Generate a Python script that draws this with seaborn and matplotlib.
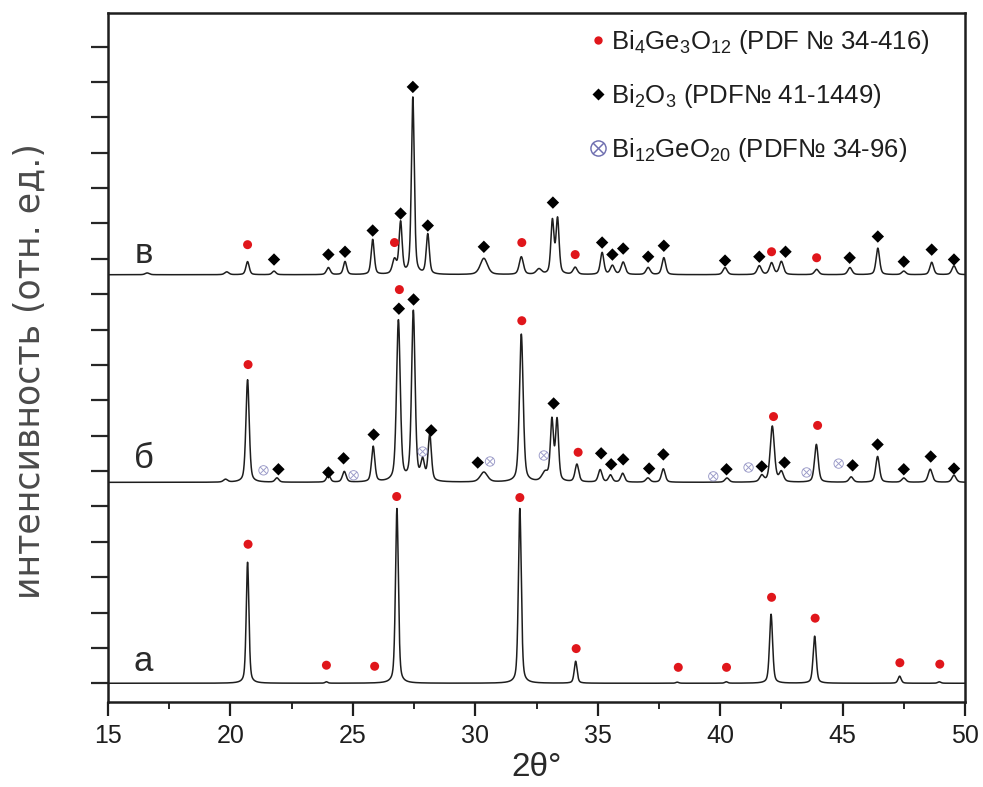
import numpy as np
import pandas as pd
import matplotlib
matplotlib.use("Agg")
import matplotlib.pyplot as plt
from matplotlib.ticker import MultipleLocator, AutoMinorLocator, NullFormatter
from matplotlib.lines import Line2D
import seaborn as sns

# ---------------- data ----------------
# Peak lists per pattern: 2theta position, height (rel. units), FWHM (deg)
# а - Bi4Ge3O12 single phase
peaks_a_pos = [20.70, 23.92, 26.80, 31.82, 34.10, 38.25, 40.25, 42.08, 43.86, 47.33, 48.95]
peaks_a_hgt = [3.42, 0.04, 4.94, 4.94, 0.62, 0.03, 0.04, 1.95, 1.33, 0.20, 0.04]
peaks_a_fw = [0.13, 0.13, 0.14, 0.14, 0.14, 0.14, 0.14, 0.15, 0.15, 0.15, 0.15]

# б - mixture
peaks_b_pos = [19.80, 20.70, 21.90, 24.00, 24.65, 25.83, 26.86, 27.47, 27.85, 28.14,
               30.35, 31.88, 32.85, 33.13, 33.34, 34.15, 35.10, 35.52, 36.02, 37.05,
               37.68, 40.28, 41.70, 42.13, 42.50, 43.93, 45.35, 46.43, 47.50, 48.58, 49.55]
peaks_b_hgt = [0.08, 2.90, 0.12, 0.20, 0.30, 1.00, 4.55, 4.80, 0.55, 1.30,
               0.28, 4.18, 0.25, 1.70, 1.72, 0.50, 0.35, 0.20, 0.25, 0.12,
               0.38, 0.12, 0.18, 1.58, 0.28, 1.07, 0.15, 0.73, 0.12, 0.37, 0.20]
peaks_b_fw = [0.20, 0.16, 0.18, 0.18, 0.18, 0.16, 0.18, 0.17, 0.18, 0.16,
              0.35, 0.18, 0.30, 0.15, 0.15, 0.18, 0.18, 0.18, 0.18, 0.20,
              0.18, 0.20, 0.20, 0.20, 0.20, 0.18, 0.20, 0.18, 0.20, 0.20, 0.20]

# в - mostly Bi2O3
peaks_c_pos = [16.60, 19.85, 20.70, 21.78, 24.00, 24.68, 25.81, 26.70, 26.95, 27.45,
               28.06, 30.35, 31.88, 32.60, 33.15, 33.36, 34.08, 35.18, 35.60, 36.04,
               37.06, 37.70, 40.20, 41.60, 42.10, 42.50, 43.94, 45.30, 46.44, 47.50,
               48.64, 49.55]
peaks_c_hgt = [0.05, 0.08, 0.37, 0.10, 0.20, 0.37, 0.99, 0.40, 1.45, 5.00,
               1.13, 0.46, 0.50, 0.15, 1.50, 1.55, 0.20, 0.62, 0.25, 0.35,
               0.20, 0.48, 0.20, 0.25, 0.33, 0.37, 0.15, 0.20, 0.75, 0.10,
               0.35, 0.25]
peaks_c_fw = [0.20, 0.20, 0.16, 0.18, 0.18, 0.16, 0.15, 0.20, 0.15, 0.14,
              0.15, 0.35, 0.20, 0.25, 0.15, 0.15, 0.20, 0.17, 0.20, 0.20,
              0.20, 0.18, 0.20, 0.20, 0.20, 0.20, 0.20, 0.20, 0.17, 0.20,
              0.18, 0.20]

# vertical shift of each pattern
offsets = {"а": 0.0, "б": 5.68, "в": 11.55}

# phase markers: 2theta and height
bgo_a_x = [20.72, 23.92, 25.89, 26.79, 31.82, 34.12, 38.29, 40.26, 42.10, 43.88, 47.34, 48.97]
bgo_a_y = [3.93, 0.51, 0.48, 5.28, 5.25, 0.98, 0.45, 0.45, 2.43, 1.84, 0.58, 0.54]

bgo_b_x = [20.72, 26.90, 31.90, 34.20, 42.18, 43.98]
bgo_b_y = [9.01, 11.13, 10.25, 6.53, 7.54, 7.29]
bio_b_x = [21.96, 24.00, 24.62, 25.85, 26.88, 27.48, 28.20, 30.10, 33.20, 35.14, 35.55,
           36.04, 37.10, 37.68, 40.26, 41.70, 42.63, 45.41, 46.43, 47.50, 48.60, 49.55]
bio_b_y = [6.05, 5.96, 6.36, 7.03, 10.59, 10.85, 7.15, 6.24, 7.91, 6.50, 6.19,
           6.33, 6.07, 6.47, 6.05, 6.13, 6.24, 6.16, 6.75, 6.05, 6.41, 6.07]
bgeo_b_x = [21.35, 25.03, 27.85, 30.60, 32.80, 39.72, 41.16, 43.53, 44.84]
bgeo_b_y = [6.02, 5.88, 6.55, 6.27, 6.44, 5.85, 6.10, 5.96, 6.21]

bgo_c_x = [20.70, 26.70, 31.90, 34.08, 42.10, 43.94]
bgo_c_y = [12.40, 12.46, 12.46, 12.12, 12.20, 12.03]
bio_c_x = [21.78, 24.00, 24.68, 25.81, 26.95, 27.45, 28.06, 30.35, 33.17, 35.18, 35.60,
           36.04, 37.06, 37.70, 40.20, 41.60, 42.67, 45.29, 46.44, 47.50, 48.64, 49.55]
bio_c_y = [11.98, 12.12, 12.20, 12.80, 13.28, 16.86, 12.94, 12.34, 13.59, 12.46, 12.12,
           12.29, 12.06, 12.37, 11.95, 12.06, 12.20, 12.03, 12.63, 11.92, 12.26, 11.98]

x_ticks = [15, 20, 25, 30, 35, 40, 45, 50]
phase_labels = [r"Bi$_4$Ge$_3$O$_{12}$ (PDF № 34-416)",
                r"Bi$_2$O$_3$ (PDF№ 41-1449)",
                r"Bi$_{12}$GeO$_{20}$ (PDF№ 34-96)"]

# ---------------- profiles ----------------
two_theta = np.linspace(15, 50, 7001)


def profile(pos, hgt, fw, eta=0.45):
    y = np.zeros_like(two_theta)
    for p, h, w in zip(pos, hgt, fw):
        g = np.exp(-4 * np.log(2) * ((two_theta - p) / w) ** 2)
        lo = 1.0 / (1.0 + 4 * ((two_theta - p) / w) ** 2)
        y += h * (eta * lo + (1 - eta) * g)
    return y


frames = []
for name, (pp, hh, ww) in {"а": (peaks_a_pos, peaks_a_hgt, peaks_a_fw),
                           "б": (peaks_b_pos, peaks_b_hgt, peaks_b_fw),
                           "в": (peaks_c_pos, peaks_c_hgt, peaks_c_fw)}.items():
    frames.append(pd.DataFrame({"2theta": two_theta,
                                "I": profile(pp, hh, ww) + offsets[name],
                                "sample": name}))
patterns = pd.DataFrame(pd.concat(frames, ignore_index=True))

bgo = pd.DataFrame({"x": bgo_a_x + bgo_b_x + bgo_c_x, "y": bgo_a_y + bgo_b_y + bgo_c_y})
bio = pd.DataFrame({"x": bio_b_x + bio_c_x, "y": bio_b_y + bio_c_y})
bgeo = pd.DataFrame({"x": bgeo_b_x, "y": bgeo_b_y})

# ---------------- figure ----------------
sns.set_theme(style="ticks")
plt.rcParams["font.family"] = ["Liberation Sans", "DejaVu Sans"]
plt.rcParams["mathtext.default"] = "regular"

fig = plt.figure(figsize=(9.83, 7.87), dpi=100)
ax = fig.add_axes([108 / 983, 1 - 702 / 787, 857 / 983, 689 / 787])

ink = "#1e1e1e"
sns.lineplot(data=patterns, x="2theta", y="I", units="sample", estimator=None,
             color=ink, linewidth=1.1, ax=ax, legend=False)

red = "#e0161b"
blue = "#6f6fb0"
sns.scatterplot(data=bgo, x="x", y="y", marker="o", s=42, color=red,
                edgecolor="none", ax=ax, zorder=5)
sns.scatterplot(data=bio, x="x", y="y", marker="D", s=40, color="black",
                edgecolor="none", ax=ax, zorder=5)
sns.scatterplot(data=bgeo, x="x", y="y", marker=r"$\otimes$", s=55, color=blue,
                edgecolor="none", alpha=0.7, ax=ax, zorder=5)

# sample letters
for name, ly in zip(["а", "б", "в"], [0.62, 6.35, 12.15]):
    ax.text(16.45, ly, name, fontsize=25, color="#2a2a2a", ha="center", va="center")

# legend
handles = [Line2D([], [], ls="none", marker="o", ms=6, color=red, mec="none"),
           Line2D([], [], ls="none", marker="D", ms=6, color="black", mec="none"),
           Line2D([], [], ls="none", marker=r"$\otimes$", ms=12, color=blue,
                  mec="none", mew=0)]
leg = ax.legend(handles, phase_labels, loc="upper left", bbox_to_anchor=(0.547, 1.0),
                frameon=False, fontsize=18.5, handlelength=0.45, handletextpad=0.3,
                labelspacing=1.0, borderaxespad=0.2)
for t in leg.get_texts():
    t.set_color("#1e1e1e")

# axes
ax.set_xlim(15, 50)
ax.set_ylim(-0.53, 18.95)
ax.set_xticks(x_ticks)
ax.xaxis.set_minor_locator(AutoMinorLocator(2))
ax.yaxis.set_major_locator(MultipleLocator(1))
ax.yaxis.set_major_formatter(NullFormatter())
ax.tick_params(axis="x", which="major", direction="out", length=10, width=1.6,
               pad=6, labelsize=18, colors="#1e1e1e")
ax.tick_params(axis="x", which="minor", direction="out", length=5, width=1.4)
ax.tick_params(axis="y", which="major", direction="out", length=12, width=1.6)
for side in ["left", "right", "top", "bottom"]:
    ax.spines[side].set_visible(True)
    ax.spines[side].set_linewidth(1.8)
    ax.spines[side].set_color("#1e1e1e")

ax.set_xlabel("2θ°", fontsize=24, color="#2a2a2a", labelpad=3)
ax.set_ylabel("интенсивность (отн. ед.)", fontsize=25, color="#4a4a4a",
              family=["DejaVu Sans"])
ax.yaxis.set_label_coords(-0.072, 0.48)

fig.savefig("out.png", dpi=100)
